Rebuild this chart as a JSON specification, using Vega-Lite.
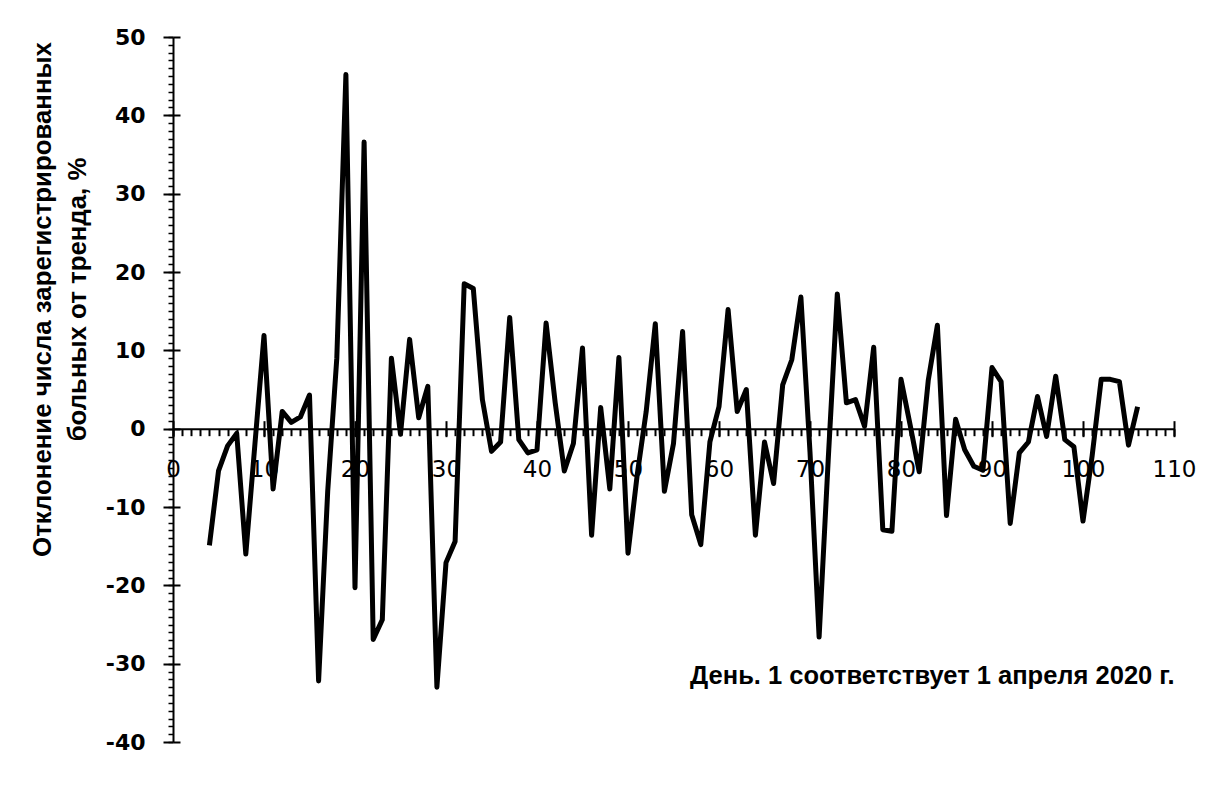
{
  "$schema": "https://vega.github.io/schema/vega-lite/v6.json",
  "width": 1001,
  "height": 705,
  "autosize": "none",
  "padding": {"left": 173, "top": 37, "right": 32, "bottom": 52},
  "background": "white",
  "config": {"view": {"stroke": null}},
  "data": {"values": [
    {"day": 4, "dev": -14.9}, {"day": 5, "dev": -5.4}, {"day": 6, "dev": -2.2}, {"day": 7, "dev": -0.6},
    {"day": 8, "dev": -16.0}, {"day": 9, "dev": -2.0}, {"day": 10, "dev": 11.9}, {"day": 11, "dev": -7.7},
    {"day": 12, "dev": 2.2}, {"day": 13, "dev": 0.8}, {"day": 14, "dev": 1.5}, {"day": 15, "dev": 4.3},
    {"day": 16, "dev": -32.2}, {"day": 17, "dev": -8.0}, {"day": 18, "dev": 9.0}, {"day": 19, "dev": 45.2},
    {"day": 20, "dev": -20.3}, {"day": 21, "dev": 36.6}, {"day": 22, "dev": -26.9}, {"day": 23, "dev": -24.4},
    {"day": 24, "dev": 9.0}, {"day": 25, "dev": -0.7}, {"day": 26, "dev": 11.4}, {"day": 27, "dev": 1.4},
    {"day": 28, "dev": 5.4}, {"day": 29, "dev": -33.0}, {"day": 30, "dev": -17.1}, {"day": 31, "dev": -14.4},
    {"day": 32, "dev": 18.5}, {"day": 33, "dev": 17.9}, {"day": 34, "dev": 3.7}, {"day": 35, "dev": -2.9},
    {"day": 36, "dev": -1.7}, {"day": 37, "dev": 14.2}, {"day": 38, "dev": -1.4}, {"day": 39, "dev": -3.1},
    {"day": 40, "dev": -2.7}, {"day": 41, "dev": 13.5}, {"day": 42, "dev": 3.3}, {"day": 43, "dev": -5.4},
    {"day": 44, "dev": -1.9}, {"day": 45, "dev": 10.3}, {"day": 46, "dev": -13.6}, {"day": 47, "dev": 2.7},
    {"day": 48, "dev": -7.7}, {"day": 49, "dev": 9.1}, {"day": 50, "dev": -15.9}, {"day": 51, "dev": -6.0},
    {"day": 52, "dev": 2.2}, {"day": 53, "dev": 13.4}, {"day": 54, "dev": -8.0}, {"day": 55, "dev": -1.9},
    {"day": 56, "dev": 12.4}, {"day": 57, "dev": -11.0}, {"day": 58, "dev": -14.8}, {"day": 59, "dev": -1.7},
    {"day": 60, "dev": 2.8}, {"day": 61, "dev": 15.2}, {"day": 62, "dev": 2.2}, {"day": 63, "dev": 5.0},
    {"day": 64, "dev": -13.6}, {"day": 65, "dev": -1.7}, {"day": 66, "dev": -7.0}, {"day": 67, "dev": 5.6},
    {"day": 68, "dev": 8.8}, {"day": 69, "dev": 16.8}, {"day": 70, "dev": -3.0}, {"day": 71, "dev": -26.6},
    {"day": 72, "dev": -4.0}, {"day": 73, "dev": 17.2}, {"day": 74, "dev": 3.3}, {"day": 75, "dev": 3.7},
    {"day": 76, "dev": 0.3}, {"day": 77, "dev": 10.4}, {"day": 78, "dev": -12.9}, {"day": 79, "dev": -13.1},
    {"day": 80, "dev": 6.3}, {"day": 81, "dev": 0.5}, {"day": 82, "dev": -5.5}, {"day": 83, "dev": 6.2},
    {"day": 84, "dev": 13.2}, {"day": 85, "dev": -11.1}, {"day": 86, "dev": 1.2}, {"day": 87, "dev": -2.7},
    {"day": 88, "dev": -4.8}, {"day": 89, "dev": -5.3}, {"day": 90, "dev": 7.8}, {"day": 91, "dev": 6.0},
    {"day": 92, "dev": -12.1}, {"day": 93, "dev": -3.1}, {"day": 94, "dev": -1.7}, {"day": 95, "dev": 4.1},
    {"day": 96, "dev": -1.0}, {"day": 97, "dev": 6.7}, {"day": 98, "dev": -1.4}, {"day": 99, "dev": -2.3},
    {"day": 100, "dev": -11.8}, {"day": 101, "dev": -3.5}, {"day": 102, "dev": 6.3}, {"day": 103, "dev": 6.3},
    {"day": 104, "dev": 6.0}, {"day": 105, "dev": -2.1}, {"day": 106, "dev": 2.8}
  ]},
  "layer": [
    {
      "mark": {"type": "line", "color": "black", "strokeWidth": 5, "strokeJoin": "round"},
      "encoding": {
        "x": {
          "field": "day", "type": "quantitative",
          "scale": {"domain": [0, 110], "nice": false, "zero": false},
          "axis": {
            "orient": "bottom", "offset": -313.33,
            "values": [0, 10, 20, 30, 40, 50, 60, 70, 80, 90, 100, 110],
            "labelExpr": "'' + datum.value", "grid": false,
            "tickSize": 8, "tickWidth": 2, "tickColor": "black",
            "domainColor": "black", "domainWidth": 2,
            "labelFont": "DejaVu Sans", "labelFontSize": 23, "labelColor": "black",
            "labelPadding": 22, "labelFlush": false, "labelOverlap": false,
            "title": "День. 1 соответствует 1 апреля 2020 г.",
            "titleFont": "Liberation Sans", "titleFontWeight": "bold", "titleFontSize": 25.5,
            "titleColor": "black", "titleAlign": "right", "titleAnchor": "end",
            "titleX": 1001, "titleY": 255, "titleBaseline": "alphabetic"
          }
        },
        "y": {
          "field": "dev", "type": "quantitative",
          "scale": {"domain": [-40, 50], "nice": false},
          "axis": {
            "orient": "left",
            "values": [-40, -30, -20, -10, 0, 10, 20, 30, 40, 50],
            "labelExpr": "'' + datum.value", "grid": false,
            "tickSize": 10, "tickWidth": 2, "tickColor": "black",
            "domainColor": "black", "domainWidth": 2,
            "labelFont": "DejaVu Sans", "labelFontWeight": "bold", "labelFontSize": 22, "labelColor": "black",
            "labelPadding": 18, "labelFlush": false, "labelOverlap": false,
            "title": ["Отклонение числа зарегистрированных", "больных от тренда, %"],
            "titleFont": "Liberation Sans", "titleFontWeight": "bold", "titleFontSize": 25.8,
            "titleColor": "black", "titleAngle": 270, "titleAlign": "center", "titleBaseline": "middle",
            "titleLineHeight": 35, "titleX": -131, "titleY": 262
          }
        }
      }
    },
    {
      "mark": {"type": "line", "opacity": 0},
      "encoding": {
        "x": {
          "field": "day", "type": "quantitative",
          "scale": {"domain": [0, 110], "nice": false, "zero": false},
          "axis": {
            "orient": "bottom", "offset": -313.33,
            "values": [0,1,2,3,4,5,6,7,8,9,10,11,12,13,14,15,16,17,18,19,20,21,22,23,24,25,26,27,28,29,30,31,32,33,34,35,36,37,38,39,40,41,42,43,44,45,46,47,48,49,50,51,52,53,54,55,56,57,58,59,60,61,62,63,64,65,66,67,68,69,70,71,72,73,74,75,76,77,78,79,80,81,82,83,84,85,86,87,88,89,90,91,92,93,94,95,96,97,98,99,100,101,102,103,104,105,106,107,108,109,110],
            "grid": false, "labels": false, "domain": false, "title": null,
            "tickSize": 7, "tickWidth": 2, "tickColor": "black"
          }
        },
        "y": {
          "field": "dev", "type": "quantitative",
          "scale": {"domain": [-40, 50], "nice": false},
          "axis": {
            "orient": "left",
            "values": [-40,-39,-38,-37,-36,-35,-34,-33,-32,-31,-30,-29,-28,-27,-26,-25,-24,-23,-22,-21,-20,-19,-18,-17,-16,-15,-14,-13,-12,-11,-10,-9,-8,-7,-6,-5,-4,-3,-2,-1,0,1,2,3,4,5,6,7,8,9,10,11,12,13,14,15,16,17,18,19,20,21,22,23,24,25,26,27,28,29,30,31,32,33,34,35,36,37,38,39,40,41,42,43,44,45,46,47,48,49,50],
            "grid": false, "labels": false, "domain": false, "title": null,
            "tickSize": 5, "tickWidth": 1.5, "tickColor": "black"
          }
        }
      }
    },
    {
      "mark": {"type": "line", "opacity": 0},
      "encoding": {
        "x": {
          "field": "day", "type": "quantitative",
          "scale": {"domain": [0, 110], "nice": false, "zero": false},
          "axis": {
            "orient": "top", "offset": -391.67,
            "values": [0, 10, 20, 30, 40, 50, 60, 70, 80, 90, 100, 110],
            "grid": false, "labels": false, "domain": false, "title": null,
            "tickSize": 8, "tickWidth": 2, "tickColor": "black"
          }
        },
        "y": {
          "field": "dev", "type": "quantitative",
          "scale": {"domain": [-40, 50], "nice": false},
          "axis": {
            "orient": "right", "offset": -1001,
            "values": [-40, -30, -20, -10, 0, 10, 20, 30, 40, 50],
            "grid": false, "labels": false, "domain": false, "title": null,
            "tickSize": 7, "tickWidth": 2, "tickColor": "black"
          }
        }
      }
    }
  ],
  "resolve": {"axis": {"x": "independent", "y": "independent"}}
}
